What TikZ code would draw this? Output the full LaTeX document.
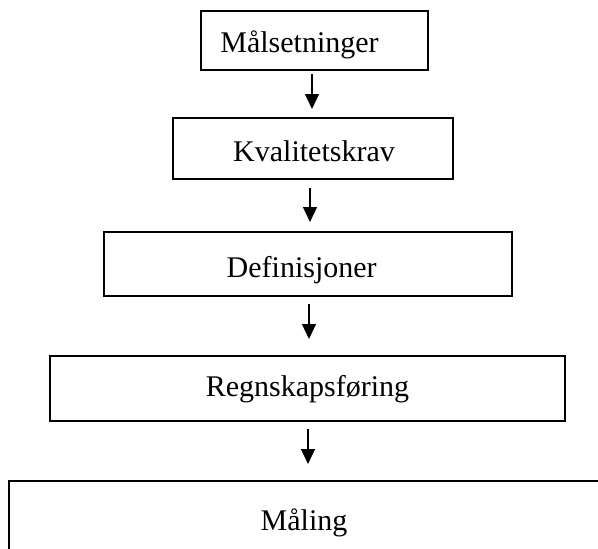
\documentclass[tikz,border=0pt]{standalone}
\usepackage{fontspec}
\setmainfont{Liberation Serif}
\usetikzlibrary{arrows.meta}

\begin{document}
\begin{tikzpicture}[x=1pt,y=-1pt,
  boks/.style={draw,line width=2pt,rectangle,inner sep=0pt},
  tekst/.style={anchor=base,inner sep=0pt,font=\fontsize{30}{36}\selectfont},
  pil/.style={line width=1.2pt,-{Triangle[length=15pt,width=14pt]}}]
\useasboundingbox (0,0) rectangle (598,549);
\clip (0,0) rectangle (598,549);
% boxes
\node[boks,minimum width=227pt,minimum height=59pt] (b1) at (314.5,40.5) {};
\node[boks,minimum width=280pt,minimum height=61pt] (b2) at (313,148.5) {};
\node[boks,minimum width=408pt,minimum height=64pt] (b3) at (308,264) {};
\node[boks,minimum width=515pt,minimum height=65pt] (b4) at (307.5,388.5) {};
\node[boks,minimum width=600pt,minimum height=80pt] (b5) at (309,521) {};
% texts
\node[tekst] (t1) at (299.5,52) {Målsetninger};
\node[tekst] (t2) at (314,161) {Kvalitetskrav};
\node[tekst] (t3) at (301.7,277) {Definisjoner};
\node[tekst] (t4) at (307.5,396) {Regnskapsføring};
\node[tekst] (t5) at (304,530) {Måling};
% arrows
\coordinate (a1) at (312,0);
\coordinate (a2) at (310,0);
\coordinate (a3) at (309,0);
\coordinate (a4) at (308,0);
\draw[pil,shorten <=3pt,shorten >=8pt] (b1.south -| a1) -- (b2.north -| a1);
\draw[pil,shorten <=8pt,shorten >=9pt] (b2.south -| a2) -- (b3.north -| a2);
\draw[pil,shorten <=7pt,shorten >=16pt] (b3.south -| a3) -- (b4.north -| a3);
\draw[pil,shorten <=7pt,shorten >=16pt] (b4.south -| a4) -- (b5.north -| a4);
\end{tikzpicture}
\end{document}
